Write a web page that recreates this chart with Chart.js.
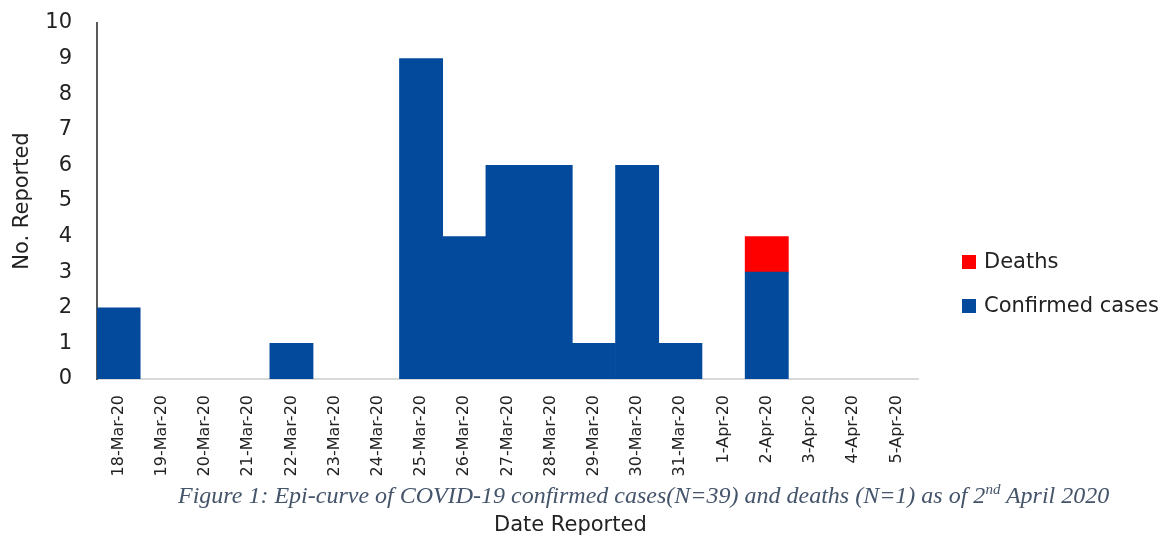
<!DOCTYPE html>
<html>
<head>
<meta charset="utf-8">
<script src="https://cdn.jsdelivr.net/npm/chart.js@4.4.0/dist/chart.umd.min.js"></script>
<style>
  body { margin: 0; background: #fff; }
  #wrap { position: relative; width: 1164px; height: 537px; }
  canvas { position: absolute; left: 0; top: 0; }
  .legend { position: absolute; left: 962px; font: 21px "DejaVu Sans", sans-serif; color: #222; white-space: nowrap; line-height: 24px; }
  .legend span.box { display: inline-block; width: 14px; height: 14px; margin-right: 8px; vertical-align: -1px; }
  #xtitle { position: absolute; left: 494px; top: 512px; font: 21px "DejaVu Sans", sans-serif; color: #222; line-height: 24px; }
  #caption { position: absolute; left: 178px; top: 481px; font: italic 24px "Liberation Serif", serif; color: #44546a; white-space: nowrap; line-height: 28px; }
  #caption sup { font-size: 15px; line-height: 0; }
</style>
</head>
<body>
<div id="wrap">
  <canvas id="epiChart" width="1164" height="537"></canvas>
  <div class="legend" style="top:249px"><span class="box" style="background:#ff0000"></span>Deaths</div>
  <div class="legend" style="top:293px"><span class="box" style="background:#044a9c"></span>Confirmed cases</div>
  <div id="caption">Figure 1: Epi-curve of COVID-19 confirmed cases(N=39) and deaths (N=1) as of 2<sup>nd</sup> April 2020</div>
  <div id="xtitle">Date Reported</div>
</div>
<script>
// Reported dates
const dates = ['18-Mar-20', '19-Mar-20', '20-Mar-20', '21-Mar-20', '22-Mar-20', '23-Mar-20',
  '24-Mar-20', '25-Mar-20', '26-Mar-20', '27-Mar-20', '28-Mar-20', '29-Mar-20', '30-Mar-20',
  '31-Mar-20', '1-Apr-20', '2-Apr-20', '3-Apr-20', '4-Apr-20', '5-Apr-20'];
const confirmed = [2, 0, 0, 0, 1, 0, 0, 9, 4, 6, 6, 1, 6, 1, 0, 3, 0, 0, 0];
const deaths = [0, 0, 0, 0, 0, 0, 0, 0, 0, 0, 0, 0, 0, 0, 0, 1, 0, 0, 0];
const yTicks = [0, 1, 2, 3, 4, 5, 6, 7, 8, 9, 10];

const textColor = '#222';
const font21 = { family: 'DejaVu Sans, sans-serif', size: 21 };

// empty days get no bar at all (avoids hairlines at zero)
const noZero = arr => arr.map(v => (v === 0 ? null : v));

new Chart(document.getElementById('epiChart'), {
  type: 'bar',
  data: {
    labels: dates,
    datasets: [
      { label: 'Confirmed cases', data: noZero(confirmed), backgroundColor: '#044a9c', borderWidth: 0 },
      { label: 'Deaths', data: noZero(deaths), backgroundColor: '#ff0000', borderWidth: 0 }
    ]
  },
  options: {
    responsive: false,
    animation: false,
    layout: { padding: { top: 23, right: 246, left: 0, bottom: 0 } },
    datasets: { bar: { barPercentage: 1, categoryPercentage: 1 } },
    plugins: { legend: { display: false }, tooltip: { enabled: false } },
    scales: {
      x: {
        stacked: true,
        grid: { display: false, drawTicks: false },
        border: { color: '#d9d9d9', width: 2 },
        ticks: {
          color: textColor, font: { family: 'DejaVu Sans, sans-serif', size: 16 },
          minRotation: 90, maxRotation: 90, autoSkip: false, padding: 16
        },
        afterFit: (s) => { s.height = 158; }
      },
      y: {
        stacked: true,
        min: 0, max: 10,
        // hidden tick marks keep the label gap without adding top padding
        grid: { display: false, drawTicks: true, tickLength: 25 },
        border: { color: '#595959', width: 2 },
        afterBuildTicks: (s) => { s.ticks = yTicks.map(v => ({ value: v })); },
        ticks: { color: textColor, font: font21, padding: 0 },
        title: {
          display: true, text: 'No. Reported', color: textColor,
          font: font21, padding: { top: 10 }
        },
        afterFit: (s) => { s.width = 97; }
      }
    }
  }
});
</script>
</body>
</html>
